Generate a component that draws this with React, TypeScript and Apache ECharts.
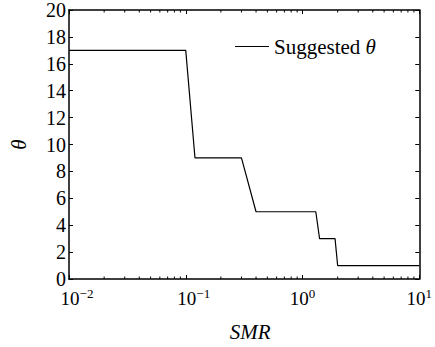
import React, { useEffect, useRef } from 'react';
import * as echarts from 'echarts';

const smrValues = [0.01, 0.1, 0.12, 0.3, 0.4, 1.3, 1.4, 1.9, 2, 10];
const thetaValues = [17, 17, 9, 9, 5, 5, 3, 3, 1, 1];
const xDecades = [0.01, 0.1, 1, 10];
const minorMultipliers = [2, 3, 4, 5, 6, 7, 8, 9];
const seriesName = 'Suggested θ';
const xName = 'SMR';
const yName = 'θ';

const FONT = "'Liberation Serif', 'Times New Roman', serif";

export default function App() {
  const ref = useRef<HTMLDivElement>(null);
  useEffect(() => {
    if (!ref.current) return;
    const chart = echarts.init(ref.current, undefined, { renderer: 'svg' });
    const minorTicks: number[] = [];
    xDecades.slice(0, -1).forEach((d) => minorMultipliers.forEach((m) => minorTicks.push(d * m)));

    const xLabelFormatter = (v: number) => {
      const e = Math.round(Math.log10(v));
      const s = e < 0 ? '\u2212' + -e : String(e);
      return (e < 0 ? '{p2|}' : '') + '10{e|' + s + '}';
    };

    const axisLine = { show: true, onZero: false, lineStyle: { color: '#000', width: 1.5 } };
    const tickStyle = { color: '#000', width: 1 };

    chart.setOption({
      animation: false,
      backgroundColor: '#fff',
      textStyle: { fontFamily: FONT },
      grid: { left: 65, top: 10, right: 8, bottom: 65, containLabel: false },
      legend: {
        left: 230,
        top: 31,
        icon: 'rect',
        itemWidth: 34,
        itemHeight: 1.2,
        itemGap: 6,
        data: [seriesName],
        formatter: () => 'Suggested {i|θ}',
        textStyle: {
          fontFamily: FONT,
          fontSize: 21,
          color: '#000',
          rich: { i: { fontStyle: 'italic', fontFamily: FONT, fontSize: 21, color: '#000' } },
        },
      },
      xAxis: [
        {
          type: 'log',
          logBase: 10,
          min: 0.01,
          max: 10,
          position: 'bottom',
          axisLine,
          axisTick: { show: true, inside: true, length: 4, lineStyle: tickStyle },
          minorTick: { show: false },
          splitLine: { show: false },
          axisLabel: {
            formatter: xLabelFormatter,
            color: '#000',
            fontFamily: FONT,
            fontSize: 19,
            margin: 8,
            rich: {
              e: { fontSize: 13, fontFamily: FONT, color: '#000', verticalAlign: 'bottom', padding: [0, 0, 9, 0] },
              p2: { width: 16 },
            },
          },
          name: xName,
          nameLocation: 'middle',
          nameGap: 42,
          nameTextStyle: { fontStyle: 'italic', fontFamily: FONT, fontSize: 21, color: '#000', padding: [0, 0, 0, 12] },
        },
        {
          type: 'log',
          logBase: 10,
          min: 0.01,
          max: 10,
          position: 'top',
          axisLine,
          axisTick: { show: true, inside: true, length: 4, lineStyle: tickStyle },
          axisLabel: { show: false },
          splitLine: { show: false },
        },
      ],
      yAxis: [
        {
          type: 'value',
          min: 0,
          max: 20,
          interval: 2,
          position: 'left',
          axisLine,
          axisTick: { show: true, inside: true, length: 4, lineStyle: tickStyle },
          splitLine: { show: false },
          axisLabel: { color: '#000', fontFamily: FONT, fontSize: 20, margin: 3 },
          name: yName,
          nameLocation: 'middle',
          nameGap: 40,
          nameTextStyle: { fontStyle: 'italic', fontFamily: FONT, fontSize: 21, color: '#000' },
        },
        {
          type: 'value',
          min: 0,
          max: 20,
          interval: 2,
          position: 'right',
          axisLine,
          axisTick: { show: true, inside: true, length: 4, lineStyle: tickStyle },
          splitLine: { show: false },
          axisLabel: { show: false },
        },
      ],
      series: [
        {
          name: seriesName,
          type: 'line',
          xAxisIndex: 0,
          yAxisIndex: 0,
          data: smrValues.map((x, i) => [x, thetaValues[i]]),
          showSymbol: false,
          symbol: 'none',
          lineStyle: { color: '#000', width: 1.2 },
          itemStyle: { color: '#000' },
        },
        {
          type: 'custom',
          xAxisIndex: 0,
          yAxisIndex: 0,
          silent: true,
          data: minorTicks.map((v) => [v]),
          renderItem: (params: any, api: any) => {
            const x = api.value(0);
            const b = api.coord([x, 0]);
            const t = api.coord([x, 20]);
            return {
              type: 'group',
              children: [
                { type: 'line', shape: { x1: b[0], y1: b[1], x2: b[0], y2: b[1] - 2.5 }, style: { stroke: '#000', lineWidth: 1 } },
                { type: 'line', shape: { x1: t[0], y1: t[1], x2: t[0], y2: t[1] + 2.5 }, style: { stroke: '#000', lineWidth: 1 } },
              ],
            };
          },
        },
      ],
    });
    return () => chart.dispose();
  }, []);
  return <div ref={ref} style={{ position: 'fixed', left: 0, top: 0, width: 435, height: 347 }} />;
}
